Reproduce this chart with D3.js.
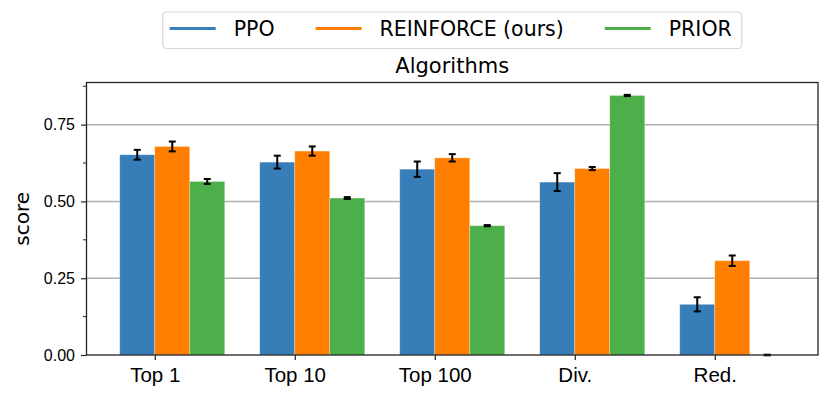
<!DOCTYPE html>
<html>
<head>
<meta charset="utf-8">
<script src="https://cdn.jsdelivr.net/npm/d3@7"></script>
<style>
	body { margin: 0; background: #fff; }
	svg { display: block; font-family: "DejaVu Sans", sans-serif; }
</style>
</head>
<body>
<div id="chart"></div>
<script>
// categories and series
var categories = ["Top 1", "Top 10", "Top 100", "Div.", "Red."];
var seriesNames = ["PPO", "REINFORCE (ours)", "PRIOR"];
var ppoValues = [0.652, 0.628, 0.605, 0.563, 0.165];
var ppoErrors = [0.016, 0.021, 0.025, 0.029, 0.023];
var reinforceValues = [0.679, 0.664, 0.642, 0.607, 0.307];
var reinforceErrors = [0.016, 0.015, 0.012, 0.005, 0.017];
var priorValues = [0.565, 0.511, 0.421, 0.845, 0.0];
var priorErrors = [0.008, 0.003, 0.002, 0.002, 0.001];
var yTicks = [0, 0.25, 0.5, 0.75];
var yMinorTicks = [0.125, 0.375, 0.625, 0.875];

var COLORS = ["#377eb8", "#ff7f00", "#4daf4a"];

var width = 830, height = 399;
var margins = { L: 86.5, R: 12, T: 82.5, B: 44 };
var plotW = width - margins.L - margins.R;
var plotH = height - margins.T - margins.B;

var series = [
	{ name: seriesNames[0], values: ppoValues, errors: ppoErrors },
	{ name: seriesNames[1], values: reinforceValues, errors: reinforceErrors },
	{ name: seriesNames[2], values: priorValues, errors: priorErrors }
];

var barW = 0.25;

var xScale = d3.scaleLinear()
	.domain([-0.4875, 4.7375])
	.range([0, plotW]);

var yMax = d3.max(priorValues) * 1.05;
var yScale = d3.scaleLinear()
	.domain([0, yMax])
	.range([plotH, 0]);

var svg = d3.select("#chart").append("svg")
	.attr("width", width)
	.attr("height", height);

var g = svg.append("g")
	.attr("transform", "translate(" + margins.L + "," + margins.T + ")");

// grid
g.append("g").selectAll("line")
	.data(yTicks.slice(1))
	.enter().append("line")
	.attr("x1", 0).attr("x2", plotW)
	.attr("y1", d => yScale(d)).attr("y2", d => yScale(d))
	.attr("stroke", "#b0b0b0")
	.attr("stroke-width", 1.5);

// bars
var flat = [];
series.forEach(function(s, si) {
	s.values.forEach(function(v, ci) {
		flat.push({ si: si, ci: ci, v: v, e: s.errors[ci] });
	});
});

g.append("g").selectAll("rect")
	.data(flat)
	.enter().append("rect")
	.attr("x", d => xScale(d.ci + (d.si - 1) * barW))
	.attr("width", d => xScale(barW) - xScale(0))
	.attr("y", d => yScale(d.v))
	.attr("height", d => yScale(0) - yScale(d.v))
	.attr("fill", d => COLORS[d.si])
	.attr("stroke", "#fff")
	.attr("stroke-opacity", 0.35)
	.attr("stroke-width", 0.8);

// error bars
var eb = g.append("g").selectAll("g")
	.data(flat)
	.enter().append("g")
	.attr("transform", d => "translate(" + xScale(d.ci + (d.si - 0.5) * barW) + ",0)");

eb.append("line")
	.attr("x1", 0).attr("x2", 0)
	.attr("y1", d => yScale(d.v - d.e))
	.attr("y2", d => yScale(d.v + d.e))
	.attr("stroke", "#000").attr("stroke-width", 2);

eb.selectAll(".cap")
	.data(d => [d.v - d.e, d.v + d.e])
	.enter().append("line")
	.attr("class", "cap")
	.attr("x1", -3.5).attr("x2", 3.5)
	.attr("y1", d => yScale(d)).attr("y2", d => yScale(d))
	.attr("stroke", "#000").attr("stroke-width", 2);

// frame
g.append("rect")
	.attr("x", 0).attr("y", 0)
	.attr("width", plotW).attr("height", plotH)
	.attr("fill", "none")
	.attr("stroke", "#222")
	.attr("stroke-width", 1.3);

// axes
var xAxis = g.append("g")
	.attr("transform", "translate(0," + plotH + ")")
	.call(d3.axisBottom(xScale)
		.tickValues(d3.range(categories.length))
		.tickFormat(i => categories[i])
		.tickSize(5)
		.tickPadding(7));
xAxis.select(".domain").remove();
xAxis.selectAll("text").attr("font-size", 20.5).attr("fill", "#000");
xAxis.selectAll("line").attr("stroke", "#222").attr("stroke-width", 1.2);

var yAxis = g.append("g")
	.call(d3.axisLeft(yScale)
		.tickValues(yTicks)
		.tickFormat(d3.format(".2f"))
		.tickSize(5.5)
		.tickPadding(6));
yAxis.select(".domain").remove();
yAxis.selectAll("text").attr("font-size", 16).attr("fill", "#000");
yAxis.selectAll("line").attr("stroke", "#222").attr("stroke-width", 1.2);

g.append("g").selectAll("line")
	.data(yMinorTicks.filter(d => d <= yMax))
	.enter().append("line")
	.attr("x1", -3.5).attr("x2", 0)
	.attr("y1", d => yScale(d)).attr("y2", d => yScale(d))
	.attr("stroke", "#222").attr("stroke-width", 1);

// y label
svg.append("text")
	.attr("transform", "translate(29," + (margins.T + plotH / 2) + ") rotate(-90)")
	.attr("text-anchor", "middle")
	.attr("font-size", 20)
	.text("score");

// title
svg.append("text")
	.attr("x", margins.L + plotW / 2)
	.attr("y", 73)
	.attr("text-anchor", "middle")
	.attr("font-size", 21)
	.text("Algorithms");

// legend
var legend = svg.append("g");
var lgFont = 20.5, handleLen = 46, handlePad = 18, colSpace = 41, padL = 7, padR = 10;
var lx = padL;
series.forEach(function(s, i) {
	var item = legend.append("g");
	item.append("line")
		.attr("x1", lx).attr("x2", lx + handleLen)
		.attr("y1", 0).attr("y2", 0)
		.attr("stroke", COLORS[i]).attr("stroke-width", 3);
	var t = item.append("text")
		.attr("x", lx + handleLen + handlePad)
		.attr("y", 7.5)
		.attr("font-size", lgFont)
		.text(s.name);
	lx += handleLen + handlePad + t.node().getComputedTextLength();
	if (i < series.length - 1) lx += colSpace;
});
var boxW = lx + padR;
legend.insert("rect", ":first-child")
	.attr("x", 0).attr("y", -16.5)
	.attr("width", boxW).attr("height", 36.5)
	.attr("rx", 4)
	.attr("fill", "#fff")
	.attr("stroke", "#d6d6d6")
	.attr("stroke-width", 1.2);
legend.attr("transform", "translate(" + (margins.L + plotW / 2 - boxW / 2) + ",28.5)");
</script>
</body>
</html>
